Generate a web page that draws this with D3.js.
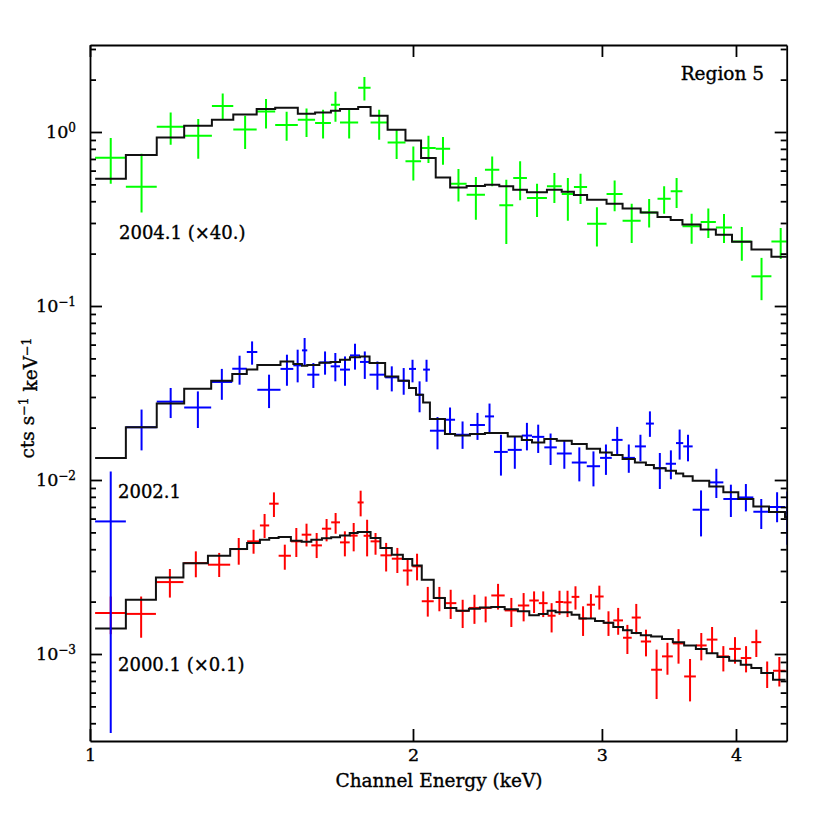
<!DOCTYPE html>
<html>
<head>
<meta charset="utf-8">
<script src="https://cdn.jsdelivr.net/npm/d3@7"></script>
<style>
  body { margin: 0; background: #fff; }
  svg text { font-family: "DejaVu Serif", serif; fill: #000; stroke: #000; stroke-width: 0.35px; }
</style>
</head>
<body>
<div id="chart"></div>
<script>
// energy bin edges (keV), data, error bar ends and folded model per bin
var greenEdges = [1.011, 1.080, 1.154, 1.224, 1.299, 1.360, 1.430, 1.488, 1.562, 1.621, 1.677, 1.710, 1.778, 1.826, 1.894, 1.968, 2.035, 2.100, 2.166, 2.244, 2.334, 2.407, 2.480, 2.554, 2.666, 2.752, 2.825, 2.906, 3.030, 3.136, 3.260, 3.380, 3.477, 3.566, 3.708, 3.831, 3.966, 4.135, 4.316, 4.49];
var greenY = [0.712, 0.485, 1.073, 0.952, 1.411, 1.035, 1.313, 1.097, 1.177, 1.126, 1.435, 1.135, 1.797, 1.135, 0.871, 0.678, 0.809, 0.802, 0.505, 0.436, 0.607, 0.379, 0.544, 0.418, 0.487, 0.440, 0.483, 0.297, 0.440, 0.309, 0.345, 0.414, 0.456, 0.287, 0.304, 0.283, 0.235, 0.148, 0.235];
var greenLo = [0.505, 0.345, 0.845, 0.702, 1.177, 0.799, 1.049, 0.891, 0.936, 0.919, 1.146, 0.919, 1.519, 0.903, 0.700, 0.527, 0.663, 0.649, 0.399, 0.313, 0.487, 0.227, 0.405, 0.325, 0.391, 0.309, 0.386, 0.220, 0.350, 0.230, 0.283, 0.339, 0.366, 0.228, 0.246, 0.230, 0.182, 0.108, 0.186];
var greenHi = [0.924, 0.750, 1.296, 1.188, 1.667, 1.241, 1.548, 1.308, 1.366, 1.343, 1.704, 1.366, 2.071, 1.343, 1.040, 0.826, 0.952, 0.936, 0.613, 0.551, 0.724, 0.532, 0.678, 0.505, 0.581, 0.544, 0.576, 0.369, 0.527, 0.387, 0.412, 0.487, 0.544, 0.339, 0.363, 0.338, 0.284, 0.189, 0.281];
var greenModel = [0.539, 0.738, 0.931, 1.087, 1.177, 1.262, 1.356, 1.379, 1.274, 1.296, 1.326, 1.356, 1.392, 1.241, 1.031, 0.895, 0.709, 0.548, 0.479, 0.489, 0.498, 0.487, 0.466, 0.450, 0.466, 0.454, 0.435, 0.408, 0.387, 0.363, 0.345, 0.325, 0.312, 0.294, 0.275, 0.257, 0.234, 0.211, 0.192];

var blueEdges = [1.011, 1.080, 1.154, 1.224, 1.297, 1.357, 1.400, 1.432, 1.505, 1.547, 1.576, 1.594, 1.636, 1.676, 1.710, 1.747, 1.785, 1.822, 1.884, 1.938, 1.983, 2.013, 2.044, 2.074, 2.142, 2.189, 2.260, 2.334, 2.380, 2.451, 2.526, 2.582, 2.651, 2.723, 2.812, 2.904, 2.988, 3.064, 3.136, 3.220, 3.297, 3.354, 3.440, 3.517, 3.572, 3.645, 3.777, 3.893, 4.020, 4.152, 4.294, 4.444, 4.482];
var blueY = [0.00578, 0.0201, 0.0282, 0.0261, 0.0366, 0.0436, 0.0544, 0.0330, 0.0435, 0.0456, 0.0556, 0.0403, 0.0474, 0.0450, 0.0431, 0.0520, 0.0477, 0.0403, 0.0389, 0.0372, 0.0435, 0.0309, 0.0431, 0.0192, 0.0222, 0.0182, 0.0207, 0.0232, 0.0145, 0.0149, 0.0180, 0.0177, 0.0154, 0.0142, 0.0126, 0.0120, 0.0134, 0.0170, 0.0134, 0.0156, 0.0211, 0.0117, 0.0124, 0.0163, 0.0156, 0.00675, 0.00969, 0.00778, 0.00794, 0.00657, 0.0070, 0.00646];
var blueLo = [0.000352, 0.0148, 0.0227, 0.0199, 0.0289, 0.0353, 0.0460, 0.0259, 0.0348, 0.0364, 0.0454, 0.0338, 0.0403, 0.0369, 0.0348, 0.0431, 0.0381, 0.0330, 0.0323, 0.0309, 0.0364, 0.0245, 0.0367, 0.0150, 0.0182, 0.0151, 0.0170, 0.0188, 0.0106, 0.0116, 0.0148, 0.0143, 0.0122, 0.0116, 0.00982, 0.00919, 0.0107, 0.0138, 0.0110, 0.0128, 0.0177, 0.00888, 0.0101, 0.0131, 0.0128, 0.00474, 0.00788, 0.00613, 0.0066, 0.00523, 0.00571, 0.00425];
var blueHi = [0.0112, 0.0254, 0.0338, 0.0323, 0.0435, 0.0518, 0.0626, 0.0403, 0.0525, 0.0561, 0.0655, 0.0470, 0.0548, 0.0537, 0.0513, 0.0607, 0.0548, 0.0480, 0.0450, 0.0440, 0.0491, 0.0369, 0.0491, 0.0230, 0.0261, 0.0217, 0.0243, 0.0275, 0.0182, 0.0178, 0.0213, 0.0208, 0.0185, 0.0168, 0.0154, 0.0146, 0.0160, 0.0202, 0.0160, 0.0182, 0.0248, 0.0143, 0.0148, 0.0195, 0.0182, 0.00871, 0.0116, 0.0094, 0.00948, 0.00778, 0.00849, 0.0086];
var blueModel = [0.01338, 0.0201, 0.0275, 0.0335, 0.0372, 0.0407, 0.0432, 0.0458, 0.0480, 0.0464, 0.0454, 0.0458, 0.0472, 0.0477, 0.0491, 0.0507, 0.0513, 0.0470, 0.0394, 0.0372, 0.0338, 0.0309, 0.0279, 0.0224, 0.0184, 0.0180, 0.0184, 0.0186, 0.0186, 0.0178, 0.0170, 0.0164, 0.0172, 0.0168, 0.0161, 0.0151, 0.0144, 0.0139, 0.0132, 0.0126, 0.0122, 0.0117, 0.0113, 0.0109, 0.0105, 0.00991, 0.00919, 0.00849, 0.00778, 0.00705, 0.00655, 0.00613];

var redEdges = [1.011, 1.080, 1.152, 1.222, 1.288, 1.351, 1.401, 1.440, 1.469, 1.499, 1.539, 1.575, 1.608, 1.645, 1.678, 1.710, 1.746, 1.776, 1.799, 1.826, 1.865, 1.911, 1.957, 1.997, 2.038, 2.091, 2.142, 2.195, 2.255, 2.309, 2.366, 2.435, 2.505, 2.567, 2.620, 2.670, 2.716, 2.762, 2.811, 2.858, 2.904, 2.956, 3.011, 3.074, 3.139, 3.198, 3.261, 3.334, 3.413, 3.493, 3.579, 3.670, 3.756, 3.844, 3.942, 4.041, 4.134, 4.223, 4.331, 4.449];
var redY = [0.00172, 0.00170, 0.00259, 0.00333, 0.00326, 0.00401, 0.00444, 0.00548, 0.00731, 0.00367, 0.00444, 0.00485, 0.00421, 0.00525, 0.00571, 0.00438, 0.00479, 0.00743, 0.00478, 0.00444, 0.00369, 0.00353, 0.00302, 0.00319, 0.00201, 0.00210, 0.00196, 0.00177, 0.00184, 0.00184, 0.00217, 0.00178, 0.00190, 0.00203, 0.00196, 0.00166, 0.00199, 0.00198, 0.00213, 0.00160, 0.00192, 0.00214, 0.00151, 0.00156, 0.00124, 0.00162, 0.00118, 0.000812, 0.000969, 0.00115, 0.000743, 0.00112, 0.00121, 0.000969, 0.00107, 0.000948, 0.00117, 0.000778, 0.000802];
var redLo = [0.00130, 0.00124, 0.00211, 0.00276, 0.00277, 0.00326, 0.00377, 0.00464, 0.00613, 0.00305, 0.00361, 0.00415, 0.00356, 0.00444, 0.00491, 0.00364, 0.00389, 0.00618, 0.00364, 0.00372, 0.00298, 0.00292, 0.00247, 0.00265, 0.00164, 0.00176, 0.00159, 0.00141, 0.00149, 0.00152, 0.00180, 0.00143, 0.00154, 0.00172, 0.00163, 0.00133, 0.00168, 0.00163, 0.00180, 0.00127, 0.00159, 0.00180, 0.00127, 0.00129, 0.00100, 0.00130, 0.000969, 0.000551, 0.000760, 0.000880, 0.000534, 0.000919, 0.00100, 0.000794, 0.000880, 0.000784, 0.000961, 0.000638, 0.000651];
var redHi = [0.00214, 0.00214, 0.00308, 0.00389, 0.00381, 0.00464, 0.00518, 0.00638, 0.00849, 0.00425, 0.00530, 0.00561, 0.00496, 0.00597, 0.00646, 0.00507, 0.00566, 0.00868, 0.00591, 0.00496, 0.00435, 0.00407, 0.00348, 0.00377, 0.00243, 0.00243, 0.00234, 0.00205, 0.00219, 0.00214, 0.00253, 0.00210, 0.00224, 0.00229, 0.00229, 0.00196, 0.00231, 0.00231, 0.00245, 0.00188, 0.00221, 0.00247, 0.00176, 0.00184, 0.00147, 0.00194, 0.00138, 0.00106, 0.00116, 0.00139, 0.000936, 0.00132, 0.00143, 0.00111, 0.00125, 0.00111, 0.00138, 0.000907, 0.000961];
var redModel = [0.00140, 0.00205, 0.00275, 0.00332, 0.00367, 0.00401, 0.00435, 0.00454, 0.00464, 0.00470, 0.00448, 0.00442, 0.00454, 0.00462, 0.00469, 0.00479, 0.00496, 0.00503, 0.00503, 0.00464, 0.00407, 0.00372, 0.00352, 0.00323, 0.00267, 0.00210, 0.00184, 0.00177, 0.00182, 0.00185, 0.00186, 0.00181, 0.00176, 0.00167, 0.00170, 0.00177, 0.00174, 0.00174, 0.00168, 0.00160, 0.00160, 0.00155, 0.00151, 0.00143, 0.00137, 0.00132, 0.00128, 0.00126, 0.00122, 0.00117, 0.00112, 0.00107, 0.00101, 0.000961, 0.000915, 0.000868, 0.000831, 0.000778, 0.000712];

var xTicks = [1, 2, 3, 4];
var seriesLabels = ["2000.1 (\u00d70.1)", "2002.1", "2004.1 (\u00d740.)"];

var margin = { top: 45, right: 43.3, bottom: 89, left: 90 },
  width = 830 - margin.left - margin.right,
  height = 830 - margin.top - margin.bottom;

var svg = d3.select("#chart").append("svg")
  .attr("width", 830)
  .attr("height", 830);
var plot = svg.append("g")
  .attr("transform", "translate(" + margin.left + "," + margin.top + ")");

plot.append("clipPath").attr("id", "clip")
  .append("rect").attr("width", width).attr("height", height);

var x = d3.scaleLog().domain([1, 4.46]).range([0, width]);
var y = d3.scaleLog().domain([Math.pow(10, -3.5), Math.pow(10, 0.5)]).range([height, 0]);

// red, then blue, then green; each set draws its data then its model
var sets = [
  { edges: redEdges, val: redY, lo: redLo, hi: redHi, model: redModel, color: "#ff0000" },
  { edges: blueEdges, val: blueY, lo: blueLo, hi: blueHi, model: blueModel, color: "#0000ff" },
  { edges: greenEdges, val: greenY, lo: greenLo, hi: greenHi, model: greenModel, color: "#00ff00" }
];

var step = d3.line()
  .x(function (p) { return x(p[0]); })
  .y(function (p) { return y(p[1]); })
  .curve(d3.curveStepAfter);

sets.forEach(function (s) {
  var bins = s.val.map(function (v, i) {
    return { e0: s.edges[i], e1: s.edges[i + 1], v: v, lo: s.lo[i], hi: s.hi[i], m: s.model[i] };
  });
  var g = plot.append("g").attr("clip-path", "url(#clip)");
  g.selectAll(".hbar").data(bins).enter().append("line")
    .attr("x1", function (d) { return x(d.e0); })
    .attr("x2", function (d) { return x(d.e1); })
    .attr("y1", function (d) { return y(d.v); })
    .attr("y2", function (d) { return y(d.v); })
    .attr("stroke", s.color).attr("stroke-width", 2);
  g.selectAll(".vbar").data(bins).enter().append("line")
    .attr("x1", function (d) { return x((d.e0 + d.e1) / 2); })
    .attr("x2", function (d) { return x((d.e0 + d.e1) / 2); })
    .attr("y1", function (d) { return y(d.lo); })
    .attr("y2", function (d) { return y(d.hi); })
    .attr("stroke", s.color).attr("stroke-width", 2);
  var pts = bins.map(function (d) { return [d.e0, d.m]; });
  pts.push([bins[bins.length - 1].e1, bins[bins.length - 1].m]);
  g.append("path").datum(pts)
    .attr("d", step)
    .attr("fill", "none")
    .attr("stroke", "#111")
    .attr("stroke-width", 2);
});

// axes, ticks pointing inward on all four sides
function isMajor(d) {
  var l = Math.log10(d);
  return Math.abs(l - Math.round(l)) < 1e-6;
}
var yTicks = y.ticks();

plot.append("g")
  .attr("transform", "translate(0," + height + ")")
  .call(d3.axisBottom(x).tickValues(xTicks).tickFormat(d3.format("d"))
    .tickSizeInner(-12).tickSizeOuter(0).tickPadding(8));
plot.append("g")
  .call(d3.axisTop(x).tickValues(xTicks).tickFormat(function () { return ""; })
    .tickSizeInner(-12).tickSizeOuter(0));

var yl = plot.append("g")
  .call(d3.axisLeft(y).tickValues(yTicks)
    .tickFormat(function (d) { return isMajor(d) ? "10" : ""; })
    .tickSizeInner(0).tickSizeOuter(0).tickPadding(14));
yl.selectAll(".tick line").attr("x2", function (d) { return isMajor(d) ? 12 : 6; });
yl.selectAll(".tick text").filter(isMajor)
  .append("tspan")
  .attr("dy", "-0.5em")
  .attr("font-size", "12px")
  .text(function (d) { return String(Math.round(Math.log10(d))).replace("-", "\u2212"); });

var yr = plot.append("g")
  .attr("transform", "translate(" + width + ",0)")
  .call(d3.axisRight(y).tickValues(yTicks).tickFormat(function () { return ""; })
    .tickSizeInner(0).tickSizeOuter(0));
yr.selectAll(".tick line").attr("x2", function (d) { return isMajor(d) ? -12 : -6; });

plot.selectAll(".domain, .tick line").attr("stroke", "#000").attr("stroke-width", 1.8);
plot.selectAll(".tick text").attr("font-size", "17.5px").attr("font-family", "DejaVu Serif");

// axis titles
svg.append("text")
  .attr("x", 439)
  .attr("y", 787)
  .attr("text-anchor", "middle")
  .attr("font-size", "18.5px")
  .text("Channel Energy (keV)");

var yt = svg.append("text")
  .attr("transform", "translate(34,398)rotate(-90)")
  .attr("text-anchor", "middle")
  .attr("font-size", "18.5px");
yt.append("tspan").text("cts s");
yt.append("tspan").attr("dy", "-0.45em").attr("font-size", "12.5px").text("\u22121");
yt.append("tspan").attr("dy", "0.45em").text(" keV");
yt.append("tspan").attr("dy", "-0.45em").attr("font-size", "12.5px").text("\u22121");

// annotations
svg.append("text").attr("x", 764).attr("y", 80).attr("text-anchor", "end")
  .attr("font-size", "18.5px").text("Region 5");
svg.append("text").attr("x", 119).attr("y", 239).attr("font-size", "18px").text(seriesLabels[2]);
svg.append("text").attr("x", 118).attr("y", 498).attr("font-size", "18px").text(seriesLabels[1]);
svg.append("text").attr("x", 118).attr("y", 671).attr("font-size", "18px").text(seriesLabels[0]);
</script>
</body>
</html>
